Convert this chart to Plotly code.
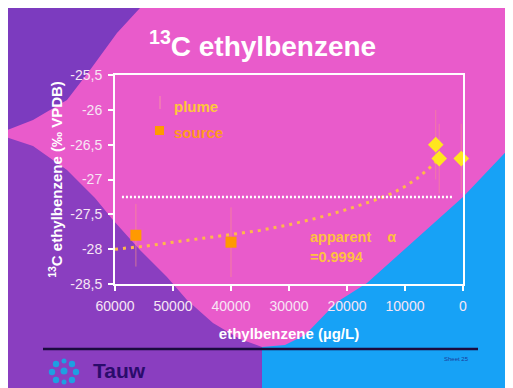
import plotly.graph_objects as go

# ---------------- data ----------------
source_x = [56400, 40000]
source_y = [-27.8, -27.9]
source_err = [0.45, 0.5]

plume_x = [4700, 4100, 300]
plume_y = [-26.5, -26.7, -26.7]
plume_err = [0.5, 0.5, 0.5]

fit_x = [60000, 55000, 50000, 45000, 40000, 35000, 30000, 25000, 20000,
         15000, 12000, 10000, 8000, 6000, 4300]
fit_y = [-28.00, -27.96, -27.90, -27.85, -27.79, -27.73, -27.65, -27.55,
         -27.43, -27.29, -27.19, -27.10, -26.99, -26.85, -26.72]

ref_x = [58800, 1900]
ref_y = [-27.25, -27.25]

x_tickvals = [60000, 50000, 40000, 30000, 20000, 10000, 0]
x_ticktext = ["60000", "50000", "40000", "30000", "20000", "10000", "0"]
y_tickvals = [-25.5, -26, -26.5, -27, -27.5, -28, -28.5]
y_ticktext = ["-25,5", "-26", "-26,5", "-27", "-27,5", "-28", "-28,5"]

# ---------------- layout helpers (screen pixel coords) ----------------
OFF = 8  # page body margin
W, H = 513 - OFF, 388 - OFF
L, R, T, B = 115, 463, 75, 284  # plot area in screen pixels
PW, PH = R - L, B - T


def px(x):
    return (x - L) / PW


def py(y):
    return (B - y) / PH


def path(pts):
    return "M " + " L ".join(f"{px(a):.4f},{py(b):.4f}" for a, b in pts) + " Z"


PINK = "#E95BCB"
PURPLE = "#8A3EC0"
PURPLE2 = "#7C3BBF"
BLUE = "#17A2F6"
FONT = "Arial, Liberation Sans, sans-serif"
TICKC = "#F7E6F5"

fig = go.Figure()

fig.add_trace(go.Scatter(
    x=fit_x, y=fit_y, mode="lines",
    line=dict(color="#FFB84A", width=3, dash="3px,5px"),
    hoverinfo="skip", showlegend=False))

fig.add_trace(go.Scatter(
    x=ref_x, y=ref_y, mode="lines",
    line=dict(color="white", width=2.5, dash="2px,2px"),
    hoverinfo="skip", showlegend=False))

fig.add_trace(go.Scatter(
    x=source_x, y=source_y, mode="markers", name="source",
    marker=dict(symbol="square", size=11, color="#FF9A00"),
    error_y=dict(type="data", array=source_err, color="rgba(255,150,130,0.6)",
                 thickness=1, width=0),
    cliponaxis=False, showlegend=False))

fig.add_trace(go.Scatter(
    x=plume_x, y=plume_y, mode="markers", name="plume",
    marker=dict(symbol="diamond", size=12, color="#FFE61E"),
    error_y=dict(type="data", array=plume_err, color="rgba(255,150,130,0.5)",
                 thickness=1, width=0),
    cliponaxis=False, showlegend=False))

shapes = []
shapes.append(dict(type="path", layer="below", xref="paper", yref="paper",
                   path=path([(0, 0), (140, 0), (140, 8), (117, 33), (90, 70),
                              (67, 100), (33, 120), (0, 133)]),
                   fillcolor=PURPLE2, line=dict(width=0)))
shapes.append(dict(type="path", layer="below", xref="paper", yref="paper",
                   path=path([(0, 135), (33, 146), (67, 170), (95, 198),
                              (113, 220), (140, 250), (167, 277), (187, 300),
                              (213, 323), (240, 339), (262, 347), (262, 400),
                              (0, 400)]),
                   fillcolor=PURPLE, line=dict(width=0)))
shapes.append(dict(type="path", layer="below", xref="paper", yref="paper",
                   path=path([(262, 400), (262, 347), (285, 345), (305, 335),
                              (337, 302), (367, 283), (463, 197), (520, 137),
                              (520, 400)]),
                   fillcolor=BLUE, line=dict(width=0)))
shapes.append(dict(type="line", xref="paper", yref="paper",
                   x0=px(43), x1=px(478), y0=py(349), y1=py(349),
                   line=dict(color="#1B0B3E", width=2.5)))
shapes.append(dict(type="line", xref="paper", yref="paper",
                   x0=px(160), x1=px(160), y0=py(96), y1=py(109),
                   line=dict(color="rgba(255,170,150,0.7)", width=1)))
shapes.append(dict(type="rect", xref="paper", yref="paper",
                   x0=px(155), x1=px(164), y0=py(126), y1=py(135),
                   fillcolor="#FF9A00", line=dict(width=0)))
for cx, cy, r in [(64, 371, 3.5), (56, 364, 3.2), (72, 364, 3.2), (52, 372, 3.2),
                  (76, 372, 3.2), (56, 380, 3.2), (72, 380, 3.2), (64, 361, 2.5),
                  (64, 382, 2.5)]:
    shapes.append(dict(type="circle", xref="paper", yref="paper",
                       x0=px(cx - r), x1=px(cx + r), y0=py(cy - r), y1=py(cy + r),
                       fillcolor="#1E9FE2", line=dict(width=0)))

annotations = [
    dict(text="<sup>13</sup>C ethylbenzene", x=px(262), y=py(44), xref="paper",
         yref="paper", showarrow=False, xanchor="center", yanchor="middle",
         font=dict(family=FONT, size=28, color="white", weight="bold")),
    dict(text="plume", x=px(172), y=py(106), xref="paper", yref="paper",
         showarrow=False, xanchor="left", yanchor="middle",
         font=dict(family=FONT, size=15, color="#FFC73A", weight="bold")),
    dict(text="source", x=px(172), y=py(132), xref="paper", yref="paper",
         showarrow=False, xanchor="left", yanchor="middle",
         font=dict(family=FONT, size=15, color="#FF9A1E", weight="bold")),
    dict(text="apparent    α", x=px(308), y=py(237), xref="paper", yref="paper",
         showarrow=False, xanchor="left", yanchor="middle",
         font=dict(family=FONT, size=14.5, color="#FFC040", weight="bold")),
    dict(text="=0.9994", x=px(308), y=py(257), xref="paper", yref="paper",
         showarrow=False, xanchor="left", yanchor="middle",
         font=dict(family=FONT, size=14.5, color="#FFC040", weight="bold")),
    dict(text="Tauw", x=px(91), y=py(370), xref="paper", yref="paper",
         showarrow=False, xanchor="left", yanchor="middle",
         font=dict(family=FONT, size=21, color="#2A0C6C", weight="bold")),
    dict(text="Sheet 25", x=px(456), y=py(359), xref="paper", yref="paper",
         showarrow=False, xanchor="center", yanchor="middle",
         font=dict(family=FONT, size=6, color="#1C3C9C")),
]

fig.update_layout(
    width=W, height=H,
    margin=dict(l=L - OFF, r=513 - R, t=T - OFF, b=388 - B, pad=0),
    paper_bgcolor=PINK, plot_bgcolor="rgba(0,0,0,0)",
    shapes=shapes, annotations=annotations, showlegend=False,
    font=dict(family=FONT),
    xaxis=dict(range=[60000, 0], tickvals=x_tickvals, ticktext=x_ticktext,
               showgrid=False, zeroline=False, showline=True, linecolor="white",
               linewidth=2, mirror=True, ticks="outside", ticklen=5,
               tickcolor="white", tickwidth=1.5,
               tickfont=dict(size=14, color=TICKC, family=FONT),
               ticklabelstandoff=3,
               title=dict(text="ethylbenzene (µg/L)", standoff=16,
                          font=dict(size=15, color="white", family=FONT,
                                    weight="bold"))),
    yaxis=dict(range=[-28.5, -25.5], tickvals=y_tickvals, ticktext=y_ticktext,
               showgrid=False, zeroline=False, showline=True, linecolor="white",
               linewidth=2, mirror=True, ticks="outside", ticklen=5,
               tickcolor="white", tickwidth=1.5,
               tickfont=dict(size=14, color=TICKC, family=FONT),
               ticklabelstandoff=3,
               title=dict(text="<sup>13</sup>C ethylbenzene (‰ VPDB)", standoff=4,
                          font=dict(size=15, color="white", family=FONT,
                                    weight="bold"))),
)

fig.write_html("out.html")
